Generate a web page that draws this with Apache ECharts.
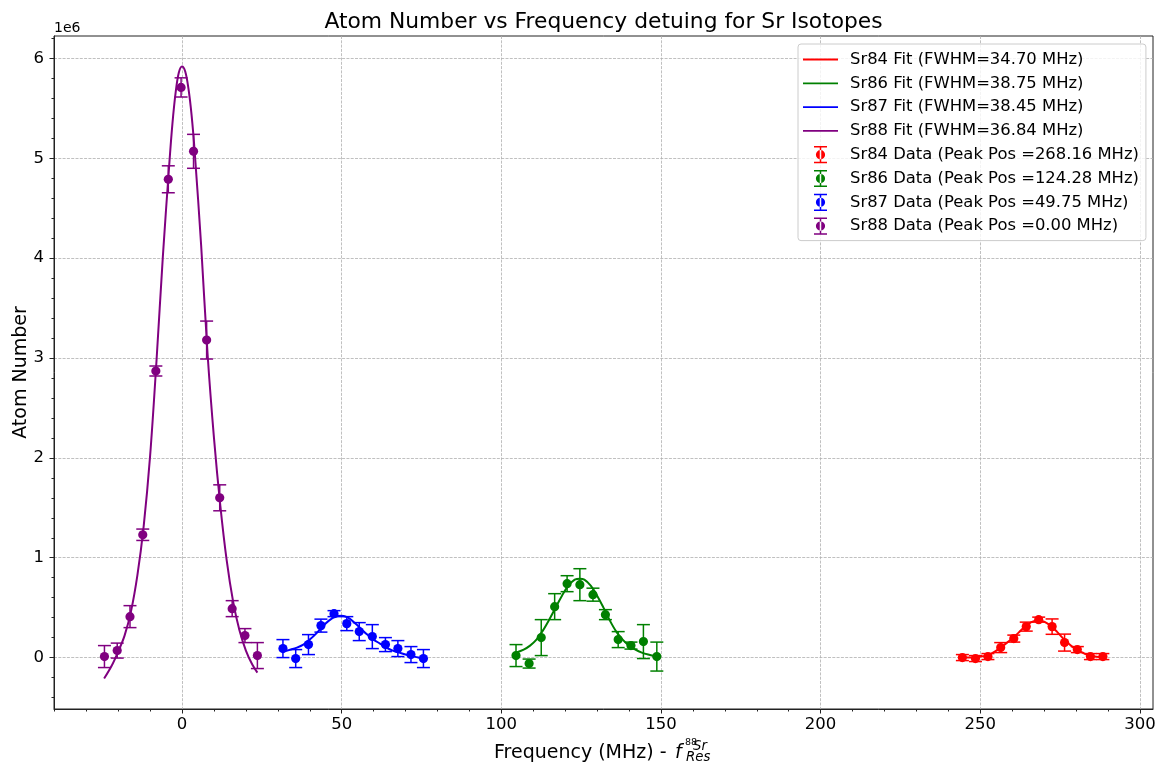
<!DOCTYPE html>
<html><head><meta charset="utf-8">
<script src="https://cdn.jsdelivr.net/npm/echarts@6/dist/echarts.min.js"></script>
<style>html,body{margin:0;padding:0;background:#fff}#c{width:1155px;height:765px}</style>
</head><body><div id="c"></div>
<script>
// ---- data (atom numbers in units of 1e6, frequency in MHz) ----
const xTicks = [0, 50, 100, 150, 200, 250, 300];
const yTicks = [0, 1, 2, 3, 4, 5, 6];

const sr88X   = [-24.3, -20.3, -16.3, -12.3, -8.2, -4.3, -0.3, 3.6, 7.7, 11.8, 15.7, 19.7, 23.6];
const sr88Y   = [0.01, 0.07, 0.41, 1.23, 2.87, 4.79, 5.71, 5.07, 3.18, 1.60, 0.49, 0.22, 0.02];
const sr88Err = [0.11, 0.075, 0.11, 0.057, 0.05, 0.135, 0.096, 0.17, 0.19, 0.13, 0.08, 0.07, 0.13];
const sr88FitX = [-24.4, -22, -20, -18, -16, -14, -12, -10, -8, -6, -4, -3, -2, -1, 0, 1, 2, 3, 4, 6, 8, 10, 12, 14, 16, 18, 20, 22, 23.6];
const sr88FitY = [-0.21, -0.08, 0.06, 0.22, 0.46, 0.82, 1.32, 2.02, 2.97, 4.02, 4.94, 5.35, 5.66, 5.86, 5.92, 5.87, 5.70, 5.43, 5.05, 4.12, 3.04, 2.20, 1.52, 0.97, 0.56, 0.27, 0.07, -0.07, -0.15];

const sr87X   = [31.6, 35.6, 39.6, 43.5, 47.6, 51.6, 55.5, 59.6, 63.7, 67.6, 71.7, 75.6];
const sr87Y   = [0.09, -0.01, 0.13, 0.32, 0.44, 0.34, 0.26, 0.21, 0.13, 0.09, 0.03, -0.01];
const sr87Err = [0.09, 0.09, 0.10, 0.065, 0.03, 0.07, 0.09, 0.12, 0.07, 0.08, 0.08, 0.09];
const sr87FitX = [31.6, 34, 36, 38, 40, 42, 44, 46, 48, 50, 52, 54, 56, 58, 60, 62, 64, 66, 68, 70, 72, 74, 75.6];
const sr87FitY = [0.06, 0.08, 0.10, 0.13, 0.18, 0.24, 0.31, 0.37, 0.41, 0.42, 0.40, 0.35, 0.29, 0.23, 0.18, 0.14, 0.10, 0.07, 0.05, 0.03, 0.015, 0.0, -0.01];

const sr86X   = [104.6, 108.7, 112.5, 116.7, 120.6, 124.6, 128.7, 132.6, 136.6, 140.6, 144.5, 148.7];
const sr86Y   = [0.02, -0.06, 0.20, 0.51, 0.74, 0.73, 0.63, 0.43, 0.18, 0.12, 0.16, 0.01];
const sr86Err = [0.11, 0.045, 0.18, 0.13, 0.08, 0.16, 0.065, 0.05, 0.08, 0.035, 0.17, 0.145];
const sr86FitX = [104.6, 107, 109, 111, 113, 115, 117, 119, 121, 123, 124.6, 126, 128, 130, 132, 134, 136, 138, 140, 142, 144, 146, 148.7];
const sr86FitY = [0.05, 0.08, 0.12, 0.18, 0.27, 0.38, 0.50, 0.62, 0.72, 0.78, 0.79, 0.78, 0.72, 0.62, 0.50, 0.37, 0.26, 0.18, 0.12, 0.08, 0.05, 0.03, 0.01];

const sr84X   = [244.4, 248.5, 252.4, 256.4, 260.5, 264.4, 268.3, 272.5, 276.4, 280.4, 284.5, 288.4];
const sr84Y   = [0.00, -0.01, 0.01, 0.10, 0.19, 0.31, 0.38, 0.31, 0.15, 0.08, 0.01, 0.01];
const sr84Err = [0.03, 0.03, 0.03, 0.05, 0.035, 0.045, 0.025, 0.077, 0.085, 0.03, 0.03, 0.03];
const sr84FitX = [244.4, 248, 250, 252, 254, 256, 258, 260, 262, 264, 266, 268.2, 270, 272, 274, 276, 278, 280, 282, 284, 286, 288.4];
const sr84FitY = [0.0, 0.0, 0.01, 0.02, 0.05, 0.09, 0.14, 0.19, 0.25, 0.31, 0.355, 0.375, 0.36, 0.32, 0.26, 0.19, 0.13, 0.08, 0.05, 0.02, 0.01, 0.0];

const fitNames  = ['Sr84 Fit (FWHM=34.70 MHz)', 'Sr86 Fit (FWHM=38.75 MHz)', 'Sr87 Fit (FWHM=38.45 MHz)', 'Sr88 Fit (FWHM=36.84 MHz)'];
const dataNames = ['Sr84 Data (Peak Pos =268.16 MHz)', 'Sr86 Data (Peak Pos =124.28 MHz)', 'Sr87 Data (Peak Pos =49.75 MHz)', 'Sr88 Data (Peak Pos =0.00 MHz)'];
const colors = ['#ff0000', '#008000', '#0000ff', '#800080'];

// ---- build ----
const FONT = 'DejaVu Sans';
const zip2 = (a, b) => a.map((v, i) => [v, b[i]]);
const zip3 = (a, b, c) => a.map((v, i) => [v, b[i], c[i]]);
const isotopes = [
  {fx: sr84FitX, fy: sr84FitY, x: sr84X, y: sr84Y, e: sr84Err},
  {fx: sr86FitX, fy: sr86FitY, x: sr86X, y: sr86Y, e: sr86Err},
  {fx: sr87FitX, fy: sr87FitY, x: sr87X, y: sr87Y, e: sr87Err},
  {fx: sr88FitX, fy: sr88FitY, x: sr88X, y: sr88Y, e: sr88Err}
];

function renderErr(params, api) {
  const x = api.value(0), y = api.value(1), e = api.value(2);
  const p = api.coord([x, y]), lo = api.coord([x, y - e]), hi = api.coord([x, y + e]);
  const c = api.visual('color');
  const cw = 6.5, lw = 1.5;
  return {type: 'group', children: [
    {type: 'line', shape: {x1: p[0], y1: lo[1], x2: p[0], y2: hi[1]}, style: {stroke: c, lineWidth: lw}},
    {type: 'line', shape: {x1: p[0] - cw, y1: lo[1], x2: p[0] + cw, y2: lo[1]}, style: {stroke: c, lineWidth: lw}},
    {type: 'line', shape: {x1: p[0] - cw, y1: hi[1], x2: p[0] + cw, y2: hi[1]}, style: {stroke: c, lineWidth: lw}},
    {type: 'circle', shape: {cx: p[0], cy: p[1], r: 4.6}, style: {fill: c}}
  ]};
}

const series = [];
isotopes.forEach((iso, i) => {
  series.push({
    type: 'line', name: fitNames[i], data: zip2(iso.fx, iso.fy),
    symbol: 'none', showSymbol: false, smooth: 0.35, silent: true,
    lineStyle: {color: colors[i], width: 2}, itemStyle: {color: colors[i]}, z: 2
  });
});
isotopes.forEach((iso, i) => {
  series.push({
    type: 'custom', name: dataNames[i], data: zip3(iso.x, iso.y, iso.e),
    renderItem: renderErr, encode: {x: 0, y: 1}, silent: true,
    itemStyle: {color: colors[i]}, z: 3
  });
});

const anchors = 'M0,0L0.01,0L0,0.01Z M42,18L41.99,18L42,17.99Z ';
const lineIcon = 'path://' + anchors + 'M0,8.1L35,8.1L35,9.9L0,9.9Z';
const ebIcon = 'path://' + anchors +
  'M11,0.4L24,0.4L24,1.9L11,1.9Z M11,16.1L24,16.1L24,17.6L11,17.6Z M16.75,1L18.25,1L18.25,17L16.75,17Z ' +
  'M12.9,9A4.6,4.6,0,1,0,22.1,9A4.6,4.6,0,1,0,12.9,9Z';

const legendData = fitNames.map(n => ({name: n, icon: lineIcon}))
  .concat(dataNames.map(n => ({name: n, icon: ebIcon})));

const axisCommon = {
  type: 'value',
  axisLine: {show: true, onZero: false, lineStyle: {color: '#222', width: 1}},
  axisTick: {show: true, length: 4.5, lineStyle: {color: '#222', width: 1}},
  minorTick: {show: true, splitNumber: 5, length: 2.5, lineStyle: {color: '#222', width: 1}},
  splitLine: {show: true, lineStyle: {color: '#b0b0b0', width: 0.8, type: [3, 1.3]}},
  minorSplitLine: {show: false}
};

const chart = echarts.init(document.getElementById('c'), null, {renderer: 'canvas'});
chart.setOption({
  animation: false,
  backgroundColor: '#ffffff',
  textStyle: {fontFamily: FONT},
  title: {
    text: 'Atom Number vs Frequency detuing for Sr Isotopes',
    left: 598.5, top: 6, textAlign: 'center',
    textStyle: {fontFamily: FONT, fontSize: 21.8, fontWeight: 'normal', color: '#000'}
  },
  grid: {left: 54, right: 2, top: 36, bottom: 56, show: true, borderColor: '#222', borderWidth: 1,
         containLabel: false, outerBoundsMode: 'none'},
  legend: {
    orient: 'vertical', left: 798, top: 44,
    itemWidth: 42, itemHeight: 18, itemGap: 5.8,
    padding: [6.5, 7, 5.5, 5],
    backgroundColor: 'rgba(255,255,255,0.8)', borderColor: '#cccccc', borderWidth: 1, borderRadius: 3,
    itemStyle: {borderWidth: 0},
    textStyle: {fontFamily: FONT, fontSize: 16.4, color: '#000'},
    selectedMode: false,
    data: legendData
  },
  xAxis: Object.assign({}, axisCommon, {
    min: -40.1, max: 304.1,
    axisTick: Object.assign({}, axisCommon.axisTick, {customValues: xTicks}),
    axisLabel: {customValues: xTicks, margin: 7, fontSize: 16.5, color: '#000', fontFamily: FONT}
  }),
  yAxis: Object.assign({}, axisCommon, {
    min: -0.515, max: 6.225,
    axisTick: Object.assign({}, axisCommon.axisTick, {customValues: yTicks}),
    axisLabel: {customValues: yTicks, margin: 10, fontSize: 16.5, color: '#000', fontFamily: FONT},
    name: 'Atom Number', nameLocation: 'middle', nameGap: 23, nameRotate: 90, nameMoveOverlap: false,
    nameTextStyle: {fontSize: 19, color: '#000', fontFamily: FONT}
  }),
  graphic: [
    {type: 'text', left: 54, top: 21.5, style: {text: '1e6', font: '14px "DejaVu Sans"', fill: '#000'}},
    {type: 'text', x: 494, y: 753, style: {text: 'Frequency (MHz) - ', font: '19px "DejaVu Sans"', fill: '#000', textAlign: 'left', textVerticalAlign: 'middle'}},
    {type: 'text', x: 675, y: 753, style: {text: 'f', font: 'italic 19px "DejaVu Sans"', fill: '#000', textAlign: 'left', textVerticalAlign: 'middle'}},
    {type: 'text', x: 685, y: 743, style: {text: '88', font: '9.5px "DejaVu Sans"', fill: '#000', textAlign: 'left', textVerticalAlign: 'middle'}},
    {type: 'text', x: 693, y: 747, style: {text: 'Sr', font: 'italic 13.3px "DejaVu Sans"', fill: '#000', textAlign: 'left', textVerticalAlign: 'middle'}},
    {type: 'text', x: 686, y: 758, style: {text: 'Res', font: 'italic 13.3px "DejaVu Sans"', fill: '#000', textAlign: 'left', textVerticalAlign: 'middle'}}
  ],
  series: series
});
</script></body></html>
